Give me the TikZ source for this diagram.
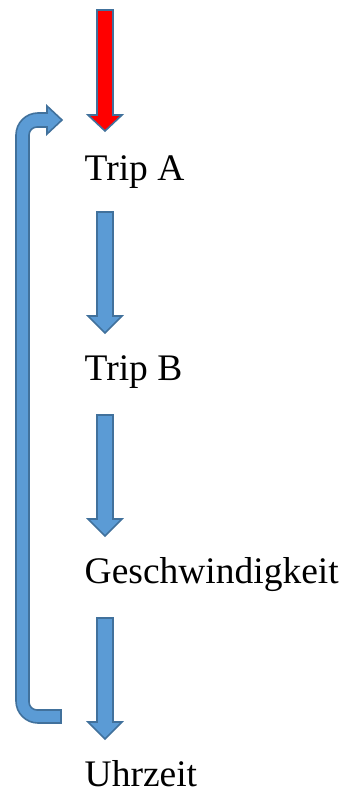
\documentclass[tikz,border=0pt]{standalone}
\usepackage{fontspec}
\setmainfont{Liberation Serif}
\definecolor{arrowblue}{HTML}{5B9BD5}
\definecolor{arrowedge}{HTML}{41719C}
\definecolor{arrowred}{HTML}{FF0000}
\tikzset{
  blockarrow/.style={fill=arrowblue, draw=arrowedge, line width=1.6pt, line join=miter},
  redarrow/.style={fill=arrowred, draw=arrowedge, line width=1.6pt, line join=miter},
  label/.style={anchor=base west, inner sep=0pt, font=\fontsize{37.5}{45}\selectfont}
}
% down block arrow: #1 top, #2 head start, #3 tip
\newcommand{\downarrowpath}[3]{(97,#1) -- (113,#1) -- (113,#2) -- (122,#2) -- (105,#3) -- (88,#2) -- (97,#2) -- cycle}
\begin{document}
\begin{tikzpicture}[x=1pt, y=-1pt]
\useasboundingbox (0,0) rectangle (342,792);
% texts
\node[label] (tripa) at (84.5,180) {Trip A};
\node[label] (tripb) at (84.5,380) {Trip B};
\node[label] (gesch) at (84.5,583) {Geschwindigkeit};
\node[label] (uhr) at (84.5,786) {Uhrzeit};
% red entry arrow
\draw[redarrow] \downarrowpath{10}{115}{131};
% blue arrows
\draw[blockarrow] \downarrowpath{212}{316}{333};
\draw[blockarrow] \downarrowpath{415}{519}{536};
\draw[blockarrow] \downarrowpath{618}{722}{739};
% loop-back bent arrow
\draw[blockarrow] (61,710) -- (37,710) .. controls (32.58,710) and (29,706.42) .. (29,702)
  -- (29,135) .. controls (29,130.58) and (32.58,127) .. (37,127)
  -- (47,127) -- (47,134) -- (62,120) -- (47,106) -- (47,113)
  -- (38,113) .. controls (25.86,113) and (16,122.86) .. (16,135)
  -- (16,701) .. controls (16,713.14) and (25.86,723) .. (38,723)
  -- (61,723) -- cycle;
\end{tikzpicture}
\end{document}
